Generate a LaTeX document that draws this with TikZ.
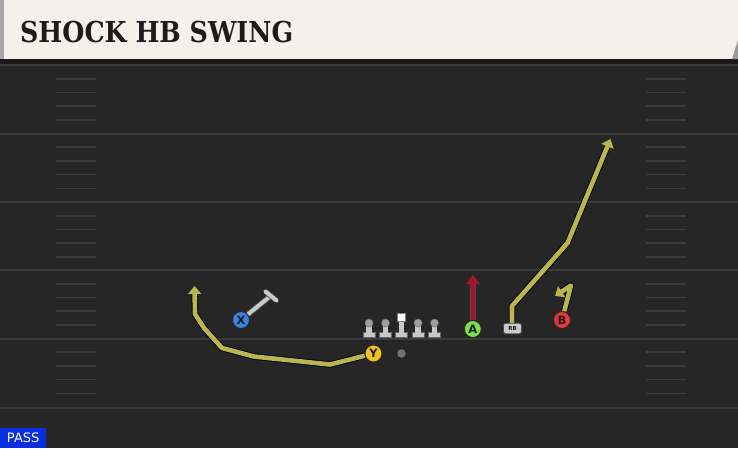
\documentclass[tikz,border=0pt]{standalone}
\usepackage{fontspec}
\setmainfont{DejaVu Sans}
\newfontfamily\titlefont{DejaVu Serif}
\usetikzlibrary{arrows.meta}
\definecolor{field}{HTML}{262626}
\definecolor{yardline}{HTML}{3B3B3B}
\definecolor{banner}{HTML}{F4F1EA}
\definecolor{routeY}{HTML}{BAB54E}
\definecolor{xblue}{HTML}{3F80E0}
\definecolor{yyellow}{HTML}{F2C21E}
\definecolor{agreen}{HTML}{7CDF4C}
\definecolor{bred}{HTML}{E6363E}
\definecolor{runred}{HTML}{A4132F}
\definecolor{olgrey}{HTML}{C9C9C9}
\definecolor{olhead}{HTML}{9E9E9E}
\definecolor{passblue}{HTML}{0A2FE0}
\definecolor{inkdark}{HTML}{1C1C1C}
\tikzset{
  yard/.style={draw=yardline, line width=2pt},
  hashmark/.style={draw=yardline, line width=1.6pt},
  player/.style={circle, minimum size=17pt, inner sep=0pt, draw=black!85, line width=0.9pt,
     text=inkdark, font=\bfseries\fontsize{11.5}{11.5}\selectfont},
  rbbox/.style={draw=black!70, fill=olgrey, rounded corners=2.5pt, line width=0.7pt, minimum width=18pt,
     minimum height=10.5pt, inner sep=0pt, text=inkdark, font=\bfseries\fontsize{5.5}{5.5}\selectfont},
  route/.style={draw=routeY, line width=4.6pt, line join=round,
     preaction={draw=black, line width=6.4pt, line join=round}},
  runroute/.style={draw=runred, line width=4.4pt,
     preaction={draw=black!70, line width=6pt}},
  blockroute/.style={draw=olgrey, line width=4pt,
     preaction={draw=black!70, line width=5.6pt}},
  tip/.style={-{Triangle[width=13pt,length=8pt]}},
}
\newcommand\olman[2]{%
  \fill[olgrey, draw=black!60, line width=0.4pt] (#1-6,332.5) rectangle (#1+6,337.5);
  \fill[olgrey] (#1-2.6,324) rectangle (#1+2.6,333);
  \fill[olhead, draw=black!60, line width=0.4pt] (#1,323) circle (4.1);
  \coordinate (#2) at (#1,330);
}
\begin{document}
\begin{tikzpicture}[x=1pt,y=-1pt]
\useasboundingbox (0,0) rectangle (738,448);
\fill[field] (0,0) rectangle (738,448);
% yard lines
\foreach \yy in {65,133.5,202,270,338.5,407.5}{
  \draw[yard] (0,\yy) -- (738,\yy);
}
% hash marks
\foreach \yy in {65,133.5,202,270,338.5}{
  \foreach \k in {1,2,3,4}{
    \draw[hashmark] (56,\yy+13.7*\k) -- (96,\yy+13.7*\k);
    \draw[hashmark] (646,\yy+13.7*\k) -- (686,\yy+13.7*\k);
  }
}
% banner
\fill[black!90] (0,59) rectangle (738,64);
\fill[banner] (0,0) rectangle (738,59);
\fill[black!35] (0,0) rectangle (3.5,59);
\fill[black!40] (738,40) -- (732,59) -- (738,59) -- cycle;
\node[anchor=west, inner sep=0pt, text=inkdark] (title) at (20,32)
  {\scalebox{0.88}[1]{\titlefont\bfseries\fontsize{28.8}{30}\selectfont SHOCK HB SWING}};
% PASS tag
\node[fill=passblue, text=white, anchor=south west, minimum width=46pt, minimum height=20pt,
  inner sep=0pt, font=\fontsize{13}{13}\selectfont] (pass) at (0,448) {PASS};
% offensive line
\olman{369}{LT}
\olman{385.5}{LG}
\fill[olgrey, draw=black!60, line width=0.4pt] (395.5,332.5) rectangle (407.5,337.5);
\fill[olgrey] (398.9,320) rectangle (404.1,333);
\fill[white, draw=black!50, line width=0.4pt] (397.6,313.2) rectangle (405.4,321);
\coordinate (C) at (401.5,330);
\olman{418}{RG}
\olman{434.5}{RT}
% ball
\node[circle, fill=black!55, minimum size=8.5pt, inner sep=0pt] (ball) at (401.5,353.5) {};
% route points
\coordinate (y1) at (330,364.5);
\coordinate (y2) at (254,356.5);
\coordinate (y3) at (222,348);
\coordinate (y4) at (204,328);
\coordinate (y5) at (195,314);
\coordinate (yend) at (194.5,286);
\coordinate (xb) at (270.5,296);
\coordinate (xb1) at (265.5,291.5);
\coordinate (xb2) at (276.5,300.5);
\coordinate (aend) at (473,275);
\coordinate (r1) at (512,306);
\coordinate (r2) at (567.5,243);
\coordinate (rend) at (610.5,139);
\coordinate (b1) at (571,285.5);
\coordinate (bend) at (555,296);
% players
\node[player, fill=xblue] (X) at (241,320) {X};
\node[player, fill=yyellow] (Y) at (373.5,353.5) {Y};
\node[player, fill=agreen] (A) at (472.8,329) {A};
\node[player, fill=bred] (B) at (562,320) {B};
\node[rbbox] (RB) at (512.5,328.5) {RB};
% routes
\draw[route, tip] (Y) -- (y1) -- (y2) -- (y3) -- (y4) -- (y5) -- (yend);
\draw[route, tip] (RB.north -| r1) -- (r1) -- (r2) -- (rend);
\draw[route, tip] (B) -- (b1) -- (bend);
\draw[runroute, -{Triangle[width=13pt,length=9pt]}] (A) -- (aend);
\draw[blockroute] (X) -- (xb);
\draw[blockroute, line cap=round] (xb1) -- (xb2);
% redraw players on top of routes
\node[player, fill=xblue] at (X) {X};
\node[player, fill=yyellow] at (Y) {Y};
\node[player, fill=agreen] at (A) {A};
\node[player, fill=bred] at (B) {B};
\node[rbbox] at (RB) {RB};
\end{tikzpicture}
\end{document}
